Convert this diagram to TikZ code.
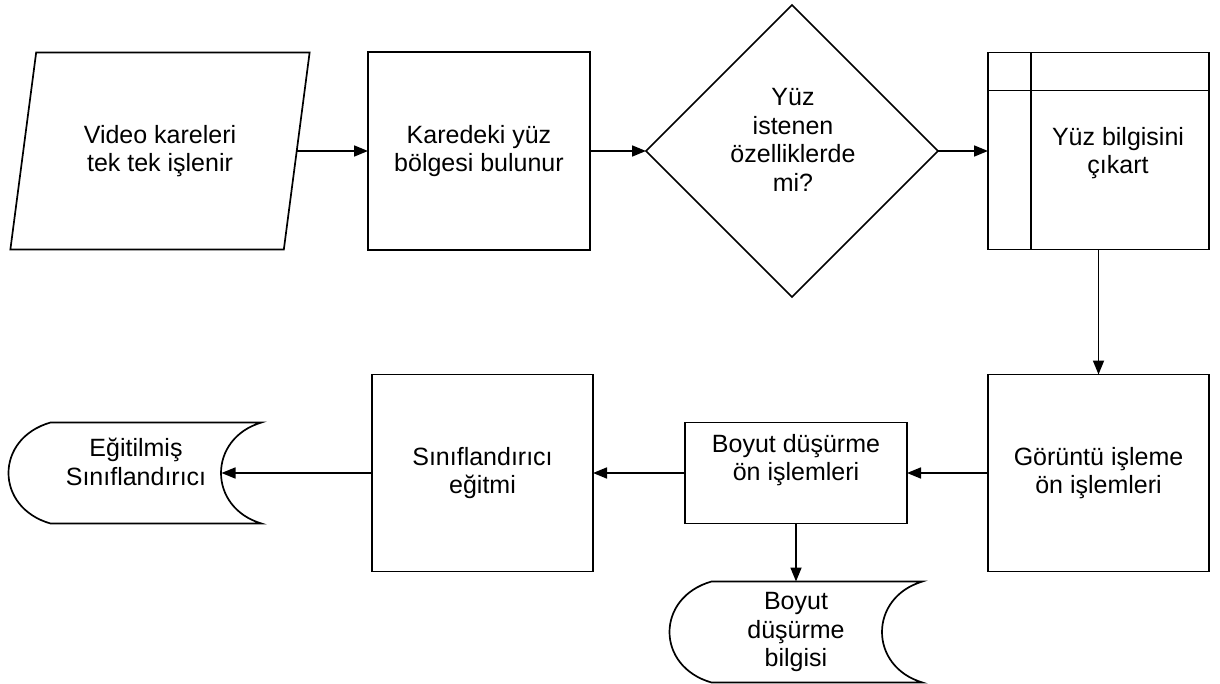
\documentclass[tikz,border=0pt]{standalone}
\usepackage{fontspec}
\setmainfont{Liberation Sans}
\usetikzlibrary{arrows.meta,positioning,calc,shapes.geometric}

% stored data outline round an empty node
\newcommand\depoCiz[1]{%
  \draw ($(#1.north west)+(42,0)$) -- (#1.north east)
     .. controls ($(#1.north east)+(-54,16)$) and ($(#1.south east)+(-54,-16)$) .. (#1.south east)
     -- ($(#1.south west)+(42,0)$)
     .. controls ($(#1.south west)+(-14,-16)$) and ($(#1.north west)+(-14,16)$) .. ($(#1.north west)+(42,0)$) -- cycle;}

\begin{document}
\begin{tikzpicture}[x=1pt,y=-1pt,line width=1.7pt,
  >={Triangle[length=14pt,width=11pt]},
  every node/.style={font=\fontsize{25}{28.5}\selectfont, align=center},
  kutu/.style={draw, rectangle, minimum width=221pt, minimum height=197pt, inner sep=0pt, outer sep=0pt},
  veri/.style={draw, trapezium, trapezium left angle=73, trapezium right angle=107,
    trapezium stretches=true, minimum width=300pt, minimum height=197pt, inner sep=0pt, outer sep=0pt},
  karar/.style={draw, diamond, aspect=1, minimum width=292pt, minimum height=292pt, inner sep=0pt, outer sep=0pt},
  depo/.style={rectangle, minimum width=253pt, minimum height=101pt, inner sep=0pt, outer sep=0pt}]
\useasboundingbox (0,0) rectangle (1220,684);

% ust sira
\node[veri] (Vkare) at (160,151) {Video kareleri\\tek tek işlenir};
\node[kutu, minimum width=222pt, minimum height=198pt] (Kbolge) at (479,151) {Karedeki yüz\\bölgesi bulunur};
\node[karar] (Ykosul) at (792,151) {};
\node (YkosulT) at (793,140) {Yüz\\istenen\\özelliklerde\\mi?};
\node[kutu] (Ybilgi) at (1098.5,151) {};
\node (YbilgiT) at (1118,153) {Yüz bilgisini\\çıkart};
\draw ($(Ybilgi.north west)+(43,0)$) -- ($(Ybilgi.south west)+(43,0)$);
\draw ($(Ybilgi.north west)+(0,38)$) -- ($(Ybilgi.north east)+(0,38)$);

% alt sira
\node[kutu] (Gislem) at (1098.5,473) {Görüntü işleme\\ön işlemleri};
\node[kutu, minimum width=222pt, minimum height=101pt] (Bislem) at (796,473) {};
\node (BislemT) at (796,460) {Boyut düşürme\\ön işlemleri};
\node[kutu] (Ssinif) at (482.5,473) {Sınıflandırıcı\\eğitmi};
\node[depo] (Esinif) at (135,473) {};
\node (EsinifT) at (136,462) {Eğitilmiş\\Sınıflandırıcı};
\depoCiz{Esinif}
\node[depo] (Bbilgi) at (796,632) {Boyut\\düşürme\\bilgisi};
\depoCiz{Bbilgi}

\draw [->] (Vkare) -- (Kbolge);
\draw [->] (Kbolge) -- (Ykosul);
\draw [->] (Ykosul) -- (Ybilgi);
\draw [->] (Ybilgi) -- (Gislem);
\draw [->] (Gislem) -- (Bislem);
\draw [->] (Bislem) -- (Ssinif);
\draw [->] (Ssinif) -- ([xshift=-40pt]Esinif.east);
\draw [->] (Bislem) -- (Bbilgi);
\end{tikzpicture}
\end{document}
